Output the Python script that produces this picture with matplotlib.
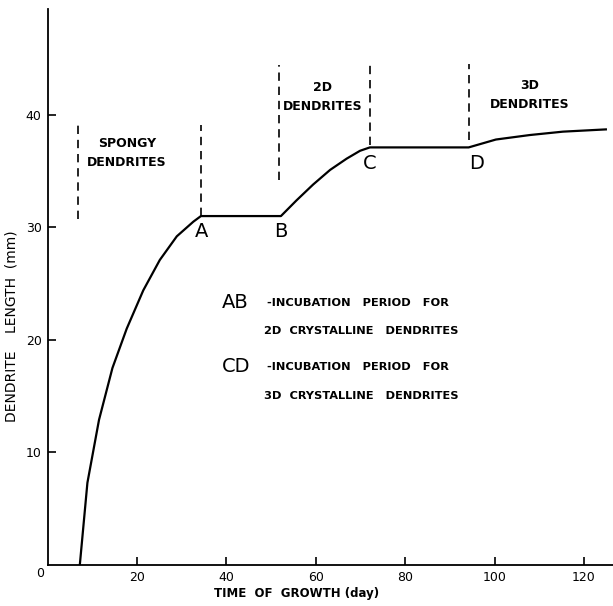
import matplotlib

matplotlib.use("Agg")

import matplotlib.pyplot as plt

# growth curve (day, mm)
days = [7.2, 8.9, 11.5, 14.5, 17.7, 21.4, 25.1, 28.9, 32.6, 34.3,
        52.2, 55.7, 59.4, 63.2, 66.9, 69.9, 72.1,
        94.2, 100.3, 107.9, 115.3, 124.9]
length_mm = [0.0, 7.3, 12.9, 17.5, 21.0, 24.4, 27.1, 29.2, 30.5, 31.0,
             31.0, 32.4, 33.8, 35.1, 36.1, 36.8, 37.1,
             37.1, 37.8, 38.2, 38.5, 38.7]

# dashed region boundaries: x, y bottom, y top
bound_x = [6.8, 34.3, 51.8, 72.1, 94.2]
bound_y0 = [30.7, 31.0, 34.2, 37.3, 37.8]
bound_y1 = [39.1, 39.1, 44.4, 44.4, 44.5]

# point labels
point_names = ["A", "B", "C", "D"]
point_x = [34.5, 52.2, 72.1, 95.9]
point_y = [29.6, 29.6, 35.7, 35.7]

# region labels
region_text = ["SPONGY\nDENDRITES", "2D\nDENDRITES", "3D\nDENDRITES"]
region_x = [17.8, 61.6, 107.9]
region_y = [36.6, 41.6, 41.8]

x_ticks = [20, 40, 60, 80, 100, 120]
y_ticks = [10, 20, 30, 40]

fig = plt.figure(figsize=(6.13, 6.06), dpi=100)
ax = fig.add_axes([0.0777, 0.0677, 0.9223, 0.9175])

ax.plot(days, length_mm, color="black", lw=1.6, solid_joinstyle="round")

for x, y0, y1 in zip(bound_x, bound_y0, bound_y1):
    ax.plot([x, x], [y0, y1], color="black", lw=1.2, dashes=(5, 3.5))

for name, x, y in zip(point_names, point_x, point_y):
    ax.text(x, y, name, ha="center", va="center", fontsize=14,
            color="black")

for txt, x, y in zip(region_text, region_x, region_y):
    ax.text(x, y, txt, ha="center", va="center", fontsize=9,
            fontweight="bold", linespacing=1.6)

# key for the two plateaus
ax.text(39.0, 23.3, "AB", ha="left", va="center", fontsize=14)
ax.text(49.0, 23.3, "-INCUBATION   PERIOD   FOR", ha="left", va="center",
        fontsize=8.2, fontweight="bold")
ax.text(48.4, 20.8, "2D  CRYSTALLINE   DENDRITES", ha="left", va="center",
        fontsize=8.2, fontweight="bold")
ax.text(39.0, 17.6, "CD", ha="left", va="center", fontsize=14)
ax.text(49.0, 17.6, "-INCUBATION   PERIOD   FOR", ha="left", va="center",
        fontsize=8.2, fontweight="bold")
ax.text(48.4, 15.0, "3D  CRYSTALLINE   DENDRITES", ha="left", va="center",
        fontsize=8.2, fontweight="bold")

ax.set_xlim(0, 126.5)
ax.set_ylim(0, 49.4)
ax.set_xticks(x_ticks)
ax.set_yticks(y_ticks)
ax.tick_params(direction="in", length=6, width=1.2, labelsize=9, pad=4.3)
ax.spines["top"].set_visible(False)
ax.spines["right"].set_visible(False)
ax.spines["left"].set_linewidth(1.3)
ax.spines["bottom"].set_linewidth(1.3)

ax.text(-0.014, -0.016, "0", transform=ax.transAxes, ha="center", va="center",
        fontsize=9)

ax.set_xlabel("TIME  OF  GROWTH (day)", fontsize=8.5, fontweight="bold")
ax.xaxis.set_label_coords(0.44, -0.04)
ax.set_ylabel("DENDRITE    LENGTH  (mm)", fontsize=10)
ax.yaxis.set_label_coords(-0.052, 0.43)

fig.savefig("out.png", dpi=100)
